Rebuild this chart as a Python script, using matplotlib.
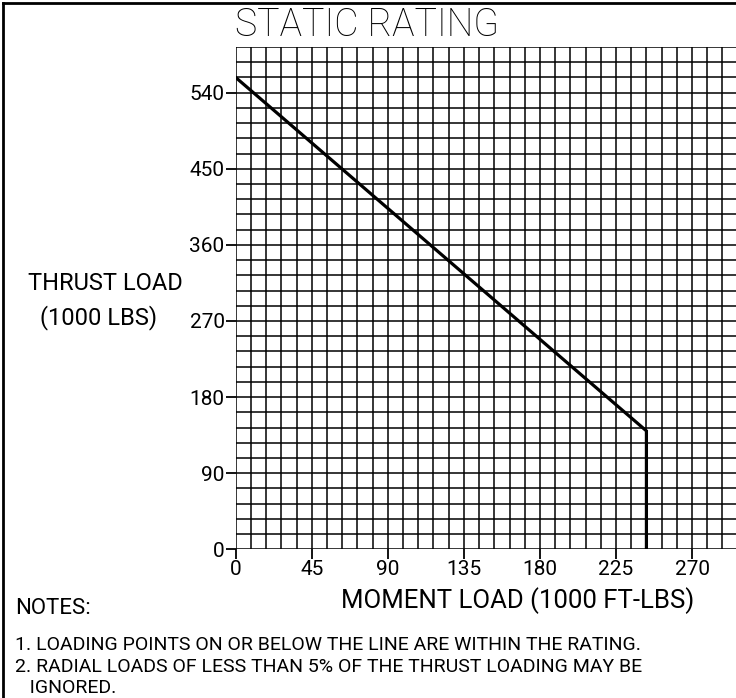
import numpy as np
import matplotlib
matplotlib.use('Agg')
import matplotlib.pyplot as plt

# rating curve (moment load vs thrust load, both in 1000s)
moment = [0, 243, 243]
thrust = [558, 140, 0]

x_ticks = [0, 45, 90, 135, 180, 225, 270]
y_ticks = [0, 90, 180, 270, 360, 450, 540]

notes = ['1. LOADING POINTS ON OR BELOW THE LINE ARE WITHIN THE RATING.',
         '2. RADIAL LOADS OF LESS THAN 5% OF THE THRUST LOADING MAY BE',
         '   IGNORED.']

plt.rcParams['font.family'] = ['Roboto', 'DejaVu Sans']

fig = plt.figure(figsize=(7.36, 6.98), dpi=100)
ax = fig.add_axes([235.7 / 736, 148.7 / 698, 500.3 / 736, 502.3 / 698])

ax.set_xlim(0, 296)
ax.set_ylim(0, 594)

# grid every 9 / 18 units
for gx in np.arange(0, 296, 9):
    ax.axvline(gx, color='black', lw=1.1, zorder=1)
for gy in np.arange(0, 595, 18):
    ax.axhline(gy, color='black', lw=1.1, zorder=1)

ax.plot(moment, thrust, color='black', lw=2.3, zorder=3, solid_joinstyle='miter')

for s in ax.spines.values():
    s.set_visible(False)

ax.set_xticks(x_ticks)
ax.set_yticks(y_ticks)
ax.set_xticklabels([str(v) for v in x_ticks], fontsize=15)
ax.set_yticklabels([str(v) for v in y_ticks], fontsize=15)
ax.tick_params(length=7, width=1.3, pad=1, colors='black')

fig.text(235 / 736, 1 - 25 / 698, 'STATIC RATING', fontsize=27, fontweight='light',
         ha='left', va='center')
fig.text(105 / 736, 1 - 283 / 698, 'THRUST LOAD', fontsize=17,
         ha='center', va='center')
fig.text(99 / 736, 1 - 318 / 698, '(1000 LBS)', fontsize=17,
         ha='center', va='center')
fig.text(518 / 736, 1 - 601 / 698, 'MOMENT LOAD (1000 FT-LBS)', fontsize=18.5,
         ha='center', va='center')
fig.text(15 / 736, 1 - 609 / 698, 'NOTES:', fontsize=16,
         ha='left', va='center')
for i, line in enumerate(notes):
    fig.text(15 / 736, 1 - (645 + 21.5 * i) / 698, line, fontsize=14, ha='left', va='center')

# drawing frame (top and left edges)
fig.add_artist(plt.Line2D([2.5 / 736, 2.5 / 736], [0, 1 - 2.5 / 698], color='black', lw=2,
                          transform=fig.transFigure))
fig.add_artist(plt.Line2D([2.5 / 736, 1], [1 - 2.5 / 698, 1 - 2.5 / 698], color='black', lw=2,
                          transform=fig.transFigure))

fig.savefig('out.png', dpi=100)
